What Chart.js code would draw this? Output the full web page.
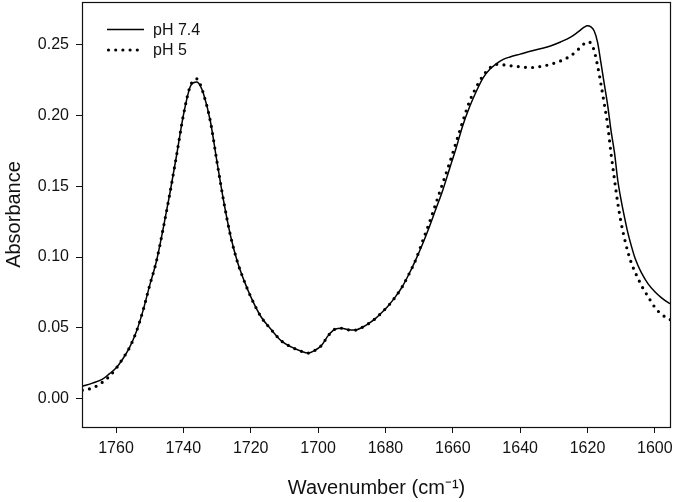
<!DOCTYPE html>
<html>
<head>
<meta charset="utf-8">
<script src="https://cdn.jsdelivr.net/npm/chart.js@4.4.1/dist/chart.umd.min.js"></script>
<style>
  html, body { margin: 0; padding: 0; background: #fff; }
  #wrap { width: 675px; height: 502px; }
</style>
</head>
<body>
<div id="wrap"><canvas id="c" width="675" height="502"></canvas></div>
<script>
const wavenumbers = [1770,1767,1764,1762,1760,1758,1756,1754,1752,1750,1748,1746,1744,1742,1740,1738,1737,1736,1735,1734,1732,1730,1728,1726,1724,1722,1720,1717,1714,1711,1708,1705,1703,1701,1699,1697,1695,1693,1691,1689,1687,1685,1683,1681,1679,1677,1675,1673,1671,1669,1667,1665,1663,1661,1659,1657,1655,1653,1651,1649,1647,1645,1643,1640,1637,1634,1631,1628,1625,1623,1621,1620,1619,1618,1617,1616,1615,1614,1613,1612,1611,1610,1609,1608,1607,1606,1605,1604,1602,1600,1598,1596,1595.2];

const absPH74 = [0.0087,0.011,0.0138,0.0175,0.0216,0.028,0.036,0.047,0.062,0.080,0.097,0.120,0.145,0.172,0.200,0.2200,0.2230,0.2235,0.2210,0.215,0.196,0.167,0.139,0.115,0.097,0.0835,0.072,0.058,0.049,0.041,0.0365,0.0335,0.0322,0.034,0.0375,0.0445,0.049,0.0497,0.0486,0.0484,0.0502,0.053,0.0565,0.061,0.066,0.072,0.079,0.088,0.098,0.109,0.121,0.134,0.147,0.162,0.177,0.193,0.206,0.217,0.2265,0.2325,0.2365,0.2395,0.2412,0.2432,0.2452,0.247,0.249,0.2518,0.2552,0.2585,0.2622,0.2632,0.2625,0.2595,0.2515,0.237,0.222,0.207,0.189,0.174,0.154,0.140,0.128,0.117,0.108,0.100,0.094,0.089,0.081,0.0755,0.0712,0.0678,0.0668];

const absPH5 = [0.0060,0.0075,0.0117,0.0157,0.0213,0.0283,0.036,0.047,0.062,0.080,0.097,0.120,0.145,0.172,0.200,0.2205,0.2245,0.2258,0.2220,0.215,0.196,0.167,0.139,0.115,0.097,0.0835,0.072,0.058,0.049,0.041,0.0365,0.0335,0.0322,0.034,0.0375,0.0445,0.049,0.0497,0.0486,0.0484,0.0502,0.053,0.0565,0.061,0.066,0.072,0.079,0.088,0.098,0.111,0.124,0.138,0.152,0.166,0.181,0.196,0.210,0.220,0.228,0.2335,0.236,0.2356,0.235,0.2343,0.2337,0.2345,0.236,0.2384,0.242,0.246,0.2505,0.2518,0.251,0.2455,0.235,0.222,0.208,0.193,0.173,0.155,0.138,0.124,0.113,0.1035,0.096,0.090,0.085,0.080,0.072,0.0645,0.0595,0.0565,0.0555];

const seriesLabels = ['pH 7.4', 'pH 5'];
const xTicks = [1760,1740,1720,1700,1680,1660,1640,1620,1600];
const yTicks = [0.00,0.05,0.10,0.15,0.20,0.25];
const xTitle = 'Wavenumber (cm\u207B\u00B9)';
const yTitle = 'Absorbance';

const FONT = "'Liberation Sans', Arial, Helvetica, sans-serif";
const INK = '#111';

function pts(xs, ys) { return xs.map((x, i) => ({x: x, y: ys[i]})); }

function noPad(s) { s.paddingTop = 0; s.paddingBottom = 0; s.paddingLeft = 0; s.paddingRight = 0; }

const framePlugin = {
  id: 'frame',
  afterDatasetsDraw(chart) {
    const {ctx, chartArea: a} = chart;
    ctx.save();
    ctx.strokeStyle = INK;
    ctx.lineWidth = 1.2;
    ctx.strokeRect(Math.round(a.left) + 0.5, Math.round(a.top) + 0.5, Math.round(a.right - a.left) - 1, Math.round(a.bottom - a.top));
    ctx.restore();
  },
  afterDraw(chart) {
    const {ctx, chartArea: a} = chart;
    const ds = chart.data.datasets;
    const x0 = a.left + 25, x1 = a.left + 62, tx = a.left + 71;
    const rows = [a.top + 27.5, a.top + 48];
    ctx.save();
    ctx.font = '16px ' + FONT;
    ctx.textBaseline = 'middle';
    ctx.fillStyle = INK;
    ds.forEach((d, i) => {
      const y = rows[i];
      ctx.beginPath();
      ctx.strokeStyle = d.borderColor;
      ctx.lineWidth = d.borderWidth;
      ctx.lineCap = d.borderCapStyle || 'butt';
      ctx.setLineDash(d.borderDash || []);
      ctx.moveTo(x0 + (i ? 1.5 : 0), y);
      ctx.lineTo(x1, y);
      ctx.stroke();
      ctx.setLineDash([]);
      ctx.fillText(d.label, tx, y + 1);
    });
    ctx.restore();
  }
};

new Chart(document.getElementById('c'), {
  type: 'line',
  data: {
    datasets: [
      {
        label: seriesLabels[0],
        data: pts(wavenumbers, absPH74),
        borderColor: '#000',
        borderWidth: 1.5,
        pointRadius: 0,
        fill: false,
        cubicInterpolationMode: 'monotone'
      },
      {
        label: seriesLabels[1],
        data: pts(wavenumbers, absPH5),
        borderColor: '#000',
        borderWidth: 3.2,
        borderDash: [0, 7.2],
        borderCapStyle: 'round',
        pointRadius: 0,
        fill: false,
        cubicInterpolationMode: 'monotone'
      }
    ]
  },
  options: {
    responsive: false,
    animation: false,
    devicePixelRatio: 1,
    layout: { padding: { left: 0, right: 4, top: 2, bottom: 0 } },
    plugins: { legend: { display: false }, tooltip: { enabled: false } },
    scales: {
      x: {
        type: 'linear',
        reverse: true,
        min: 1595.2,
        max: 1770.1,
        afterBuildTicks: s => { s.ticks = xTicks.map(v => ({value: v})); },
        afterFit: s => { s.height = 75; noPad(s); },
        ticks: {
          color: INK,
          font: { family: FONT, size: 16 },
          padding: 6,
          maxRotation: 0,
          autoSkip: false,
          callback: v => String(v)
        },
        grid: { display: true, drawOnChartArea: false, drawTicks: true, tickLength: 6, color: INK, lineWidth: 1 },
        border: { display: false },
        title: { display: true, text: xTitle, color: INK, font: { family: FONT, size: 20 }, padding: { top: 0, bottom: 2 } }
      },
      y: {
        type: 'linear',
        min: -0.02,
        max: 0.28,
        afterBuildTicks: s => { s.ticks = yTicks.map(v => ({value: v})); },
        afterFit: s => { s.width = 82; noPad(s); },
        ticks: {
          color: INK,
          font: { family: FONT, size: 16 },
          padding: 7,
          autoSkip: false,
          callback: v => Number(v).toFixed(2)
        },
        grid: { display: true, drawOnChartArea: false, drawTicks: true, tickLength: 6, color: INK, lineWidth: 1 },
        border: { display: false },
        title: { display: true, text: yTitle, color: INK, font: { family: FONT, size: 20 }, padding: { top: 2, bottom: 0 } }
      }
    }
  },
  plugins: [framePlugin]
});
</script>
</body>
</html>
